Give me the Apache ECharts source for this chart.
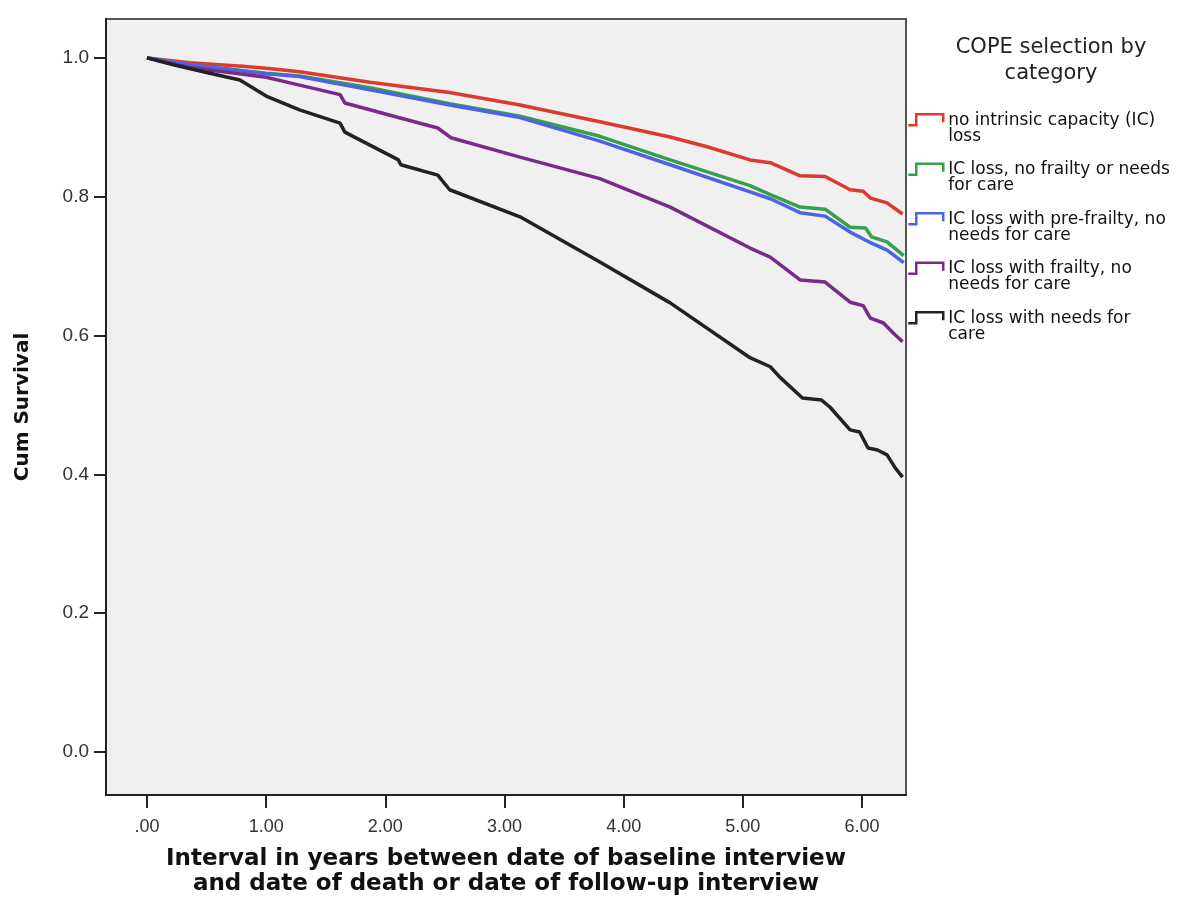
<!DOCTYPE html>
<html>
<head>
<meta charset="utf-8">
<script src="https://cdn.jsdelivr.net/npm/echarts@6/dist/echarts.min.js"></script>
<style>
html,body{margin:0;padding:0;background:#fff;}
#c{width:1197px;height:907px;}
</style>
</head>
<body>
<div id="c"></div>
<script>
// ---- data ----
const seriesNames = [
  'no intrinsic capacity (IC) loss',
  'IC loss, no frailty or needs for care',
  'IC loss with pre-frailty, no needs for care',
  'IC loss with frailty, no needs for care',
  'IC loss with needs for care'
];
const legendLabels = [
  'no intrinsic capacity (IC)\nloss',
  'IC loss, no frailty or needs\nfor care',
  'IC loss with pre-frailty, no\nneeds for care',
  'IC loss with frailty, no\nneeds for care',
  'IC loss with needs for\ncare'
];
const xTicks = [0, 1, 2, 3, 4, 5, 6];
const yTicks = [0, 0.2, 0.4, 0.6, 0.8, 1.0];

const redT = [0, 0.36, 0.8, 1.0, 1.28, 1.87, 2.54, 3.13, 3.80, 4.39, 4.70, 5.06, 5.23, 5.48, 5.69, 5.90, 6.01, 6.07, 6.21, 6.34];
const redS = [1.000, 0.993, 0.988, 0.985, 0.980, 0.965, 0.950, 0.932, 0.908, 0.886, 0.872, 0.853, 0.849, 0.830, 0.829, 0.810, 0.808, 0.798, 0.791, 0.775];

const greenT = [0, 0.36, 1.0, 1.28, 1.87, 2.54, 3.13, 3.80, 4.39, 5.06, 5.23, 5.48, 5.69, 5.90, 6.03, 6.08, 6.21, 6.35];
const greenS = [1.000, 0.990, 0.978, 0.974, 0.957, 0.934, 0.916, 0.887, 0.853, 0.816, 0.803, 0.785, 0.782, 0.756, 0.755, 0.742, 0.735, 0.715];

const blueT = [0, 0.36, 1.0, 1.28, 1.87, 2.54, 3.13, 3.80, 4.39, 5.06, 5.23, 5.48, 5.69, 5.90, 6.08, 6.21, 6.35];
const blueS = [1.000, 0.990, 0.977, 0.973, 0.954, 0.932, 0.914, 0.880, 0.846, 0.807, 0.797, 0.777, 0.772, 0.749, 0.733, 0.723, 0.705];

const purpleT = [0, 0.36, 1.0, 1.20, 1.62, 1.66, 2.11, 2.44, 2.55, 3.13, 3.80, 4.39, 5.06, 5.23, 5.48, 5.69, 5.90, 6.01, 6.07, 6.18, 6.26, 6.34];
const purpleS = [1.000, 0.986, 0.972, 0.964, 0.947, 0.935, 0.914, 0.899, 0.885, 0.857, 0.826, 0.785, 0.726, 0.713, 0.680, 0.677, 0.648, 0.643, 0.625, 0.618, 0.604, 0.591];

const blackT = [0, 0.22, 0.50, 0.78, 1.00, 1.28, 1.62, 1.66, 2.11, 2.13, 2.44, 2.54, 3.13, 3.80, 4.39, 5.06, 5.23, 5.31, 5.50, 5.66, 5.73, 5.90, 5.98, 6.05, 6.13, 6.21, 6.28, 6.34];
const blackS = [1.000, 0.990, 0.979, 0.968, 0.945, 0.925, 0.906, 0.893, 0.853, 0.846, 0.831, 0.810, 0.771, 0.706, 0.647, 0.568, 0.555, 0.540, 0.510, 0.507, 0.497, 0.464, 0.461, 0.438, 0.435, 0.428, 0.409, 0.396];

const colors = ['#dd3a2e', '#36a147', '#4c63e4', '#7a2a8c', '#222222'];
const allT = [redT, greenT, blueT, purpleT, blackT];
const allS = [redS, greenS, blueS, purpleS, blackS];

function pairs(t, s) { return t.map((v, i) => [v, s[i]]); }

const chart = echarts.init(document.getElementById('c'), null, {renderer: 'canvas'});
const stepIcon = 'path://M0,0 M0,32 M0,13 L8,13 L8,2 L35,2 L35,10';

const option = {
  animation: false,
  backgroundColor: '#ffffff',
  title: {
    text: 'COPE selection by\ncategory',
    left: 1046,
    top: 30,
    textAlign: 'center',
    textStyle: {fontFamily: 'DejaVu Sans', fontSize: 21, fontWeight: 'normal', lineHeight: 26, color: '#222'}
  },
  legend: {
    orient: 'vertical',
    left: 907,
    top: 111,
    padding: 0,
    itemWidth: 35,
    itemHeight: 32,
    itemGap: 15,
    selectedMode: false,
    icon: stepIcon,
    textStyle: {fontFamily: 'DejaVu Sans', fontSize: 17, lineHeight: 16, color: '#111'},
    formatter: function (name) { return legendLabels[seriesNames.indexOf(name)]; },
    data: seriesNames.map((n, i) => ({
      name: n,
      icon: stepIcon,
      itemStyle: {color: 'transparent', borderColor: colors[i], borderWidth: 2.5}
    }))
  },
  grid: {
    left: 106, right: 291, top: 19, bottom: 112,
    show: true, backgroundColor: '#f0f0f0', borderColor: '#555', borderWidth: 2
  },
  xAxis: {
    type: 'value',
    min: -0.344, max: 6.369,
    name: 'Interval in years between date of baseline interview\nand date of death or date of follow-up interview',
    nameLocation: 'middle',
    nameGap: 52,
    nameTextStyle: {fontFamily: 'DejaVu Sans', fontWeight: 'bold', fontSize: 23, lineHeight: 25, color: '#111'},
    axisLine: {show: true, onZero: false, lineStyle: {color: '#222', width: 2}},
    axisTick: {show: true, length: 13, customValues: xTicks, lineStyle: {color: '#222', width: 2}},
    axisLabel: {
      customValues: xTicks, margin: 23,
      fontFamily: 'Liberation Sans', fontSize: 18, color: '#333',
      formatter: function (v) { return v === 0 ? '.00' : v.toFixed(2); }
    },
    splitLine: {show: false}
  },
  yAxis: {
    type: 'value',
    min: -0.062, max: 1.056,
    name: 'Cum Survival',
    nameLocation: 'middle',
    nameGap: 73,
    nameTextStyle: {fontFamily: 'DejaVu Sans', fontWeight: 'bold', fontSize: 20, color: '#111'},
    axisLine: {show: true, onZero: false, lineStyle: {color: '#222', width: 2}},
    axisTick: {show: true, length: 12, customValues: yTicks, lineStyle: {color: '#222', width: 2}},
    axisLabel: {
      customValues: yTicks, margin: 17,
      fontFamily: 'Liberation Sans', fontSize: 19, color: '#333',
      formatter: function (v) { return v.toFixed(1); }
    },
    splitLine: {show: false}
  },
  series: seriesNames.map((n, i) => ({
    name: n,
    type: 'line',
    data: pairs(allT[i], allS[i]),
    showSymbol: false,
    symbol: 'none',
    lineStyle: {color: colors[i], width: 3.5},
    itemStyle: {color: colors[i]},
    z: 2 + i
  }))
};
chart.setOption(option);
</script>
</body>
</html>
